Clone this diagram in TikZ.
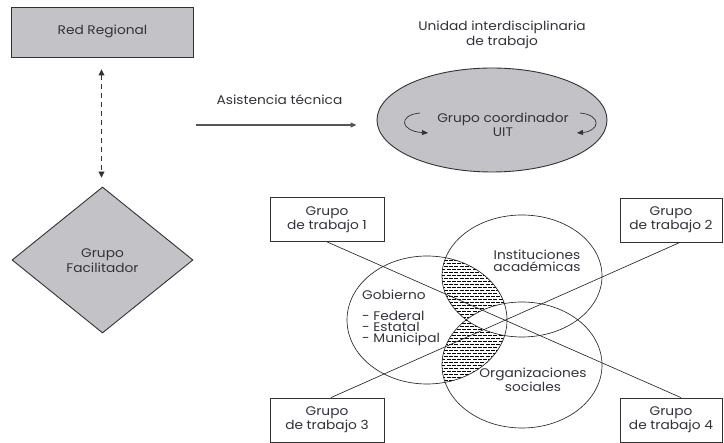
\documentclass[tikz,border=0pt]{standalone}
\usepackage{fontspec}
\setmainfont[FakeStretch=1.1]{Poppins}
\usetikzlibrary{shapes.geometric,arrows.meta}
\definecolor{boxgray}{RGB}{195,195,199}
\definecolor{txt}{RGB}{50,50,58}
\definecolor{edge}{RGB}{50,50,50}
\definecolor{arrgray}{RGB}{85,85,85}
\begin{document}
\begin{tikzpicture}[x=1pt,y=-1pt,
  lbl/.style={font=\fontsize{12.5}{14}\selectfont, text=txt, align=center, inner sep=0pt},
  tight/.style={font=\fontsize{12.5}{11.5}\selectfont},
  grpbox/.style={draw=edge, line width=0.8pt, fill=white, inner sep=0pt, minimum height=44pt},
  grayshape/.style={draw=edge, line width=0.9pt, fill=boxgray, inner sep=0pt},
  thin/.style={draw=black!85, line width=0.65pt},
  tip/.style={-{Triangle[length=6pt,width=5pt]}}
]
\useasboundingbox (0,0) rectangle (724,443);

% left column
\node[grayshape, minimum width=182pt, minimum height=50pt] (red) at (102.5,32) {};
\node[lbl] at (102.5,31) {Red Regional};
\node[grayshape, diamond, minimum width=181pt, minimum height=146pt] (fac) at (102.5,260) {};
\node[lbl, font=\fontsize{12.5}{15}\selectfont] at (102.5,260.5) {Grupo\\Facilitador};
\draw[edge, line width=0.9pt, dash pattern=on 5pt off 4pt,
      {Triangle[length=6pt,width=6pt]}-{Triangle[length=6pt,width=6pt]},
      shorten <=12pt, shorten >=9pt] (red.south -| 101.5,0) -- (fac.north -| 101.5,0);

% UIT
\node[lbl, font=\fontsize{12.5}{15}\selectfont] (title) at (502,34.5) {Unidad interdisciplinaria\\de trabajo};
\node[grayshape, ellipse, minimum width=230pt, minimum height=104pt] (uit) at (492,120) {};
\node[lbl] (uittxt) at (503,125) {Grupo coordinador\\UIT};
\draw[edge, line width=0.7pt, tip] (420,113) .. controls (398,115) and (400,131) .. (428,133);
\draw[edge, line width=0.7pt, tip] (580,113) .. controls (602,115) and (600,131) .. (577,133);

% asistencia
\node[lbl] (asis) at (279.5,100) {Asistencia técnica};
\coordinate (asst) at (196,125);
\draw[arrgray, line width=1.1pt, tip, shorten >=20pt] (asst) -- (asst -| uit.west);

% Venn hatching
\begin{scope}
  \clip (427,320) ellipse [x radius=80, y radius=64];
  \begin{scope}[even odd rule]
  \clip (522,276) ellipse [x radius=80, y radius=61]
        (522,365) ellipse [x radius=80, y radius=63];
  \foreach \k in {0,...,75}{
    \pgfmathsetmacro{\yy}{212+\k*3}
    \ifodd\k
      \draw[black, line width=0.7pt, dash pattern=on 4pt off 1.2pt, dash phase=2.6pt] (340,\yy) -- (520,\yy);
    \else
      \draw[black, line width=0.7pt, dash pattern=on 4pt off 1.2pt] (340,\yy) -- (520,\yy);
    \fi
  }
  \end{scope}
\end{scope}
\draw[thin] (427,320) ellipse [x radius=80, y radius=64];
\draw[thin] (522,276) ellipse [x radius=80, y radius=61];
\draw[thin] (522,365) ellipse [x radius=80, y radius=63];

\node[lbl, tight, font=\fontsize{12.5}{12}\selectfont] (inst) at (537,261) {Instituciones\\académicas};
\node[lbl, font=\fontsize{12.5}{11.5}\selectfont] (org) at (533,379.5) {Organizaciones\\sociales};
\node[lbl, anchor=west] (gob) at (362,295) {Gobierno};
\node[lbl, font=\fontsize{12.5}{11}\selectfont, align=left, anchor=west] (gobl) at (362,329) {- Federal\\- Estatal\\- Municipal};

% working groups
\node[grpbox, minimum width=114pt] (b1) at (327,219.5) {};
\node[grpbox, minimum width=102pt] (b2) at (671,220) {};
\node[grpbox, minimum width=114pt] (b3) at (327,420) {};
\node[grpbox, minimum width=102pt] (b4) at (671,420) {};
\node[lbl] at (b1.center) {Grupo\\de trabajo 1};
\node[lbl] at (b2.center) {Grupo\\de trabajo 2};
\node[lbl] at (b3.center) {Grupo\\de trabajo 3};
\node[lbl] at (b4.center) {Grupo\\de trabajo 4};

\draw[thin] (b1.south) -- ([xshift=10pt]b4.north);
\draw[thin] ([xshift=9pt]b2.south) -- ([xshift=4pt]b3.north);
\end{tikzpicture}
\end{document}
